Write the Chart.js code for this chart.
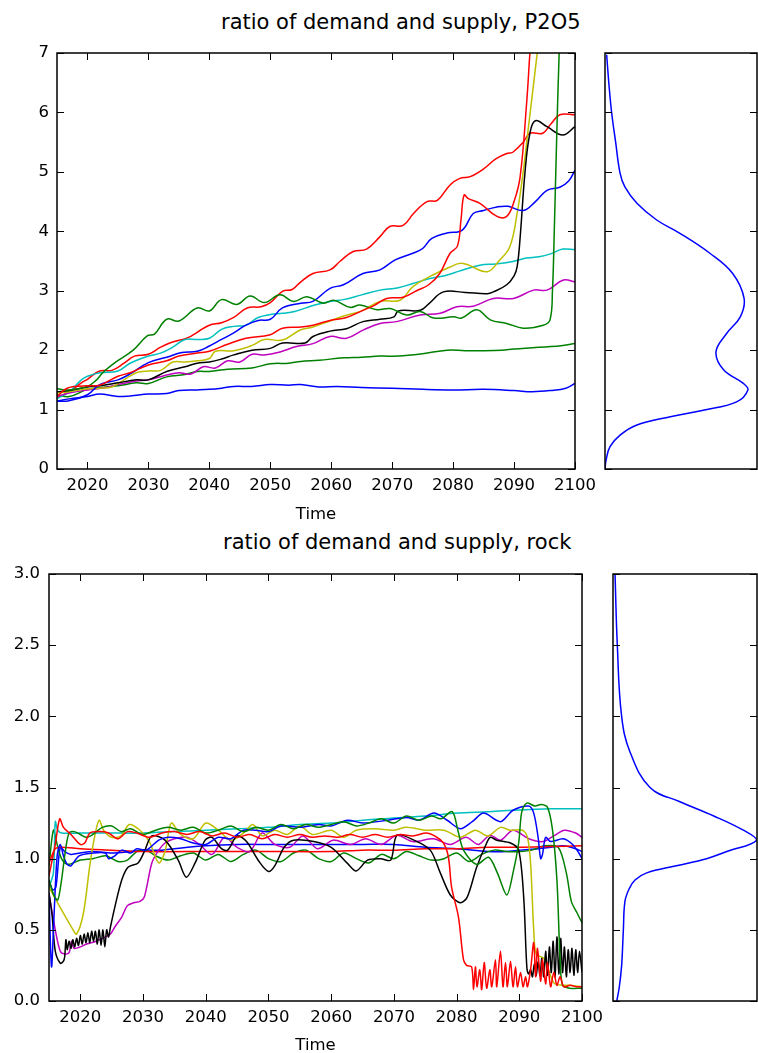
<!DOCTYPE html>
<html>
<head>
<meta charset="utf-8">
<title>ratio of demand and supply</title>
<script src="https://cdn.jsdelivr.net/npm/chart.js@4.4.0/dist/chart.umd.min.js"></script>
<style>
  body { margin: 0; background: #fff; }
  #page { position: relative; width: 758px; height: 1053px; overflow: hidden; font-family: 'DejaVu Sans', sans-serif; }
  #page canvas { position: absolute; left: 0; top: 0; }
  .panel-title { position: absolute; font-size: 21px; line-height: 21px; white-space: nowrap; color: #000; }
</style>
</head>
<body>
<div id="page">
  <div class="panel-title" style="left:221px; top:12px">ratio of demand and supply, P2O5</div>
  <div class="panel-title" style="left:223px; top:532px">ratio of demand and supply, rock</div>
  <canvas id="p2o5Chart" width="758" height="1053"></canvas>
  <canvas id="p2o5DensityChart" width="758" height="1053"></canvas>
  <canvas id="rockChart" width="758" height="1053"></canvas>
  <canvas id="rockDensityChart" width="758" height="1053"></canvas>
</div>
<script>
/* ============================
   DATA
============================ */
const yearTicks = [2020, 2030, 2040, 2050, 2060, 2070, 2080, 2090, 2100];
const p2o5Ticks = [0, 1, 2, 3, 4, 5, 6, 7];
const rockTicks = [0, 0.5, 1, 1.5, 2, 2.5, 3];

// P2O5 runs, [year, ratio]
const p2o5BlueLow = [[2015,1.14],[2017,1.18],[2020,1.22],[2022,1.26],[2025,1.22],[2027,1.23],[2030,1.26],[2033,1.27],[2035,1.32],[2038,1.33],[2040,1.34],[2042,1.36],[2044,1.39],[2047,1.39],[2050,1.42],[2053,1.41],[2055,1.42],[2058,1.38],[2061,1.39],[2065,1.37],[2070,1.36],[2075,1.34],[2080,1.33],[2085,1.34],[2090,1.32],[2093,1.30],[2096,1.32],[2098.5,1.36],[2100,1.44]];
const p2o5GreenLow = [[2015,1.25],[2017,1.22],[2020,1.34],[2022,1.37],[2025,1.40],[2028,1.45],[2030,1.44],[2033,1.55],[2036,1.59],[2038,1.64],[2040,1.64],[2043,1.68],[2047,1.70],[2050,1.77],[2053,1.78],[2055,1.81],[2058,1.83],[2062,1.87],[2065,1.88],[2068,1.90],[2071,1.90],[2075,1.94],[2079,2.0],[2082,1.99],[2085,1.99],[2088,2.0],[2090,2.02],[2093,2.04],[2096,2.06],[2098,2.08],[2100,2.11]];
const p2o5RedHigh = [[2015,1.2],[2017,1.3],[2019,1.45],[2020,1.51],[2022,1.65],[2024,1.66],[2026,1.78],[2027.7,1.9],[2030,1.93],[2032,2.05],[2033.5,2.12],[2036.5,2.21],[2038,2.3],[2040,2.42],[2042,2.46],[2044,2.55],[2046.2,2.71],[2048.5,2.73],[2050,2.8],[2052,2.99],[2053.6,3.02],[2055,3.15],[2057,3.29],[2059.8,3.35],[2061.5,3.5],[2063.6,3.66],[2065.8,3.7],[2068,3.91],[2069.6,4.08],[2071.8,4.1],[2073.5,4.3],[2075.7,4.5],[2077.4,4.52],[2079.5,4.78],[2081.1,4.89],[2082.8,4.92],[2085,5.05],[2087,5.22],[2088.8,5.31],[2089.8,5.33],[2091.5,5.5],[2092.6,5.65],[2094.7,5.65],[2096,5.8],[2097.5,5.96],[2100,5.96]];
const p2o5Cyan = [[2015,1.18],[2017,1.3],[2019,1.5],[2020,1.56],[2022,1.62],[2025,1.65],[2027,1.78],[2030,1.9],[2032,1.95],[2034,2.05],[2036,2.18],[2038,2.18],[2040,2.2],[2042,2.35],[2044,2.4],[2046,2.42],[2048,2.55],[2050,2.6],[2052,2.62],[2054,2.65],[2057,2.75],[2059.8,2.82],[2062,2.85],[2065,2.93],[2068,3.01],[2071,3.05],[2073.4,3.12],[2076,3.2],[2078.9,3.26],[2081,3.33],[2084.4,3.43],[2087,3.45],[2089.8,3.49],[2092,3.55],[2094.1,3.57],[2096,3.62],[2098,3.7],[2100,3.69]];
const p2o5Magenta = [[2015,1.22],[2017,1.28],[2020,1.33],[2023,1.37],[2025,1.42],[2028,1.48],[2030,1.5],[2033,1.58],[2035,1.62],[2037,1.6],[2039,1.72],[2041,1.7],[2043,1.82],[2045,1.8],[2047,1.93],[2049,1.92],[2051.6,1.97],[2054.3,2.06],[2057,2.11],[2059.8,2.23],[2062.5,2.2],[2065.3,2.34],[2068,2.45],[2070.7,2.48],[2074.6,2.59],[2077.9,2.62],[2080.6,2.73],[2083.3,2.74],[2086.6,2.87],[2089.9,2.87],[2093.2,3.01],[2095.4,3.01],[2098.1,3.18],[2100,3.15]];
const p2o5Yellow = [[2015,1.28],[2017,1.3],[2020,1.35],[2022,1.36],[2024,1.38],[2026,1.5],[2028,1.62],[2030,1.65],[2032,1.66],[2034,1.8],[2036,1.8],[2038,1.82],[2040,1.86],[2041,1.98],[2044,1.99],[2047,2.08],[2049,2.18],[2052,2.17],[2054.9,2.34],[2057,2.39],[2060,2.5],[2062.6,2.59],[2065,2.66],[2068,2.82],[2071.3,2.84],[2073.4,3.07],[2076.2,3.24],[2079.5,3.4],[2081.1,3.46],[2082.3,3.44],[2085.6,3.32],[2087.5,3.5],[2089.3,3.74],[2090.5,4.3],[2091.5,5.0],[2092.3,5.7],[2093,6.3],[2093.8,7.0],[2095,8.0]];
const p2o5Black = [[2015,1.3],[2017,1.32],[2020,1.38],[2022,1.4],[2025,1.45],[2028,1.5],[2030,1.5],[2033,1.64],[2036,1.72],[2038,1.78],[2040,1.8],[2042,1.85],[2044,1.92],[2047,2.0],[2050,2.03],[2052,2.12],[2055.7,2.12],[2057,2.23],[2059.8,2.32],[2062.5,2.36],[2065.2,2.48],[2068,2.52],[2070.3,2.56],[2071,2.66],[2074.6,2.67],[2076,2.78],[2078.4,2.98],[2082,2.97],[2085.6,2.95],[2086.6,2.98],[2088.8,3.1],[2090,3.25],[2090.5,3.4],[2091,3.9],[2091.8,5.0],[2092.6,5.65],[2093.5,5.86],[2095.4,5.76],[2098,5.62],[2100,5.76]];
const p2o5BlueHigh = [[2015,1.14],[2017,1.15],[2020,1.25],[2022,1.42],[2025,1.5],[2027,1.6],[2030,1.79],[2033,1.88],[2035.5,1.96],[2038,1.98],[2040,2.07],[2042,2.18],[2044,2.29],[2046,2.42],[2048,2.5],[2050,2.52],[2052,2.71],[2055,2.79],[2057,2.82],[2059.8,3.04],[2062,3.1],[2065.2,3.29],[2068,3.35],[2070.5,3.52],[2073.4,3.63],[2075,3.71],[2076.5,3.88],[2079,3.97],[2081.5,4.02],[2083.3,4.3],[2085,4.35],[2087.2,4.41],[2089,4.42],[2091.5,4.35],[2093.5,4.5],[2095.4,4.69],[2097.5,4.74],[2099,4.85],[2100,5.03]];
const p2o5GreenHigh = [[2015,1.35],[2017,1.33],[2020,1.39],[2021.5,1.5],[2022.5,1.62],[2024.8,1.81],[2027.5,2.0],[2029.8,2.24],[2031,2.27],[2033,2.52],[2035,2.49],[2038,2.71],[2040,2.66],[2042,2.85],[2044.5,2.77],[2046.7,2.91],[2049,2.8],[2051.6,2.93],[2053.8,2.82],[2056,2.9],[2058.7,2.79],[2060.4,2.84],[2063.1,2.72],[2064.7,2.76],[2067.5,2.68],[2069.7,2.7],[2072.4,2.59],[2074.6,2.65],[2076.8,2.54],[2080.1,2.56],[2081.4,2.54],[2083.9,2.68],[2086.1,2.51],[2088.8,2.45],[2091.5,2.37],[2094.8,2.42],[2095.9,2.51],[2096.3,3.0],[2096.6,4.0],[2097.0,5.6],[2097.4,7.0],[2097.7,7.8]];
const p2o5RedLow = [[2015,1.22],[2016.5,1.35],[2018,1.39],[2020,1.4],[2022,1.41],[2025,1.56],[2027,1.62],[2030,1.75],[2033,1.82],[2035,1.9],[2038,1.95],[2040,1.98],[2043,2.1],[2046,2.2],[2050,2.26],[2052,2.37],[2055,2.39],[2057,2.42],[2059.8,2.5],[2062.5,2.55],[2065.2,2.67],[2067,2.75],[2069.1,2.87],[2071.8,2.89],[2074,3.0],[2076,3.1],[2077.8,3.29],[2079.5,3.63],[2080.7,3.75],[2081.3,4.2],[2081.8,4.61],[2082.5,4.55],[2084.4,4.47],[2087.2,4.25],[2088.8,4.25],[2090,4.5],[2091,4.92],[2092.1,6.21],[2092.6,7.0],[2093.2,7.8]];

// density of the P2O5 ratio, [ratio, relative density]
const p2o5Density = [[0,0],[0.15,0.007],[0.375,0.033],[0.57,0.099],[0.74,0.21],[0.88,0.43],[0.99,0.647],[1.13,0.866],[1.33,0.94],[1.44,0.91],[1.67,0.78],[1.97,0.73],[2.28,0.80],[2.56,0.89],[2.87,0.915],[3.29,0.84],[3.63,0.69],[3.97,0.49],[4.19,0.34],[4.47,0.21],[4.75,0.13],[4.98,0.099],[5.5,0.07],[5.99,0.044],[6.5,0.025],[6.97,0.011]];

// rock runs, [year, ratio]
const rockBlueA = [[2015,0.85],[2015.6,0.78],[2016.1,0.8],[2016.8,1.08],[2017.5,1.05],[2018.5,1.03],[2020,1.04],[2022,1.05],[2025,1.04],[2028,1.05],[2030,1.06],[2033,1.06],[2035,1.07],[2040,1.09],[2045,1.1],[2050,1.1],[2055,1.1],[2060,1.1],[2065,1.1],[2070,1.1],[2075,1.08],[2080,1.07],[2085,1.05],[2088,1.05],[2090,1.06],[2093,1.07],[2095,1.08],[2097,1.09],[2099,1.07],[2100,1.05]];
const rockGreenA = [[2015,0.95],[2015.7,1.2],[2016.3,1.1],[2017,1.0],[2018,0.96],[2020,0.99],[2022,1.0],[2024,1.02],[2026,0.98],[2027.5,0.99],[2029,1.05],[2030.5,1.06],[2032,1.02],[2034,0.99],[2036,1.02],[2038,1.04],[2040,0.99],[2042,1.03],[2044,0.98],[2046,1.03],[2048,1.06],[2050,1.0],[2052,0.98],[2054,1.04],[2056,1.06],[2058,1.0],[2060,0.98],[2062,1.04],[2064,1.0],[2066,0.97],[2068,1.03],[2070,1.0],[2072,1.05],[2074,1.02],[2076,0.99],[2078,1.0],[2080,1.04],[2082,0.98],[2084,1.03],[2086,1.06],[2088,1.05],[2090,1.05],[2092,1.06],[2094,1.09],[2096.2,1.08],[2097.5,0.9],[2098.3,0.7],[2099.2,0.62],[2100,0.55]];
const rockRedA = [[2015,0.97],[2016,1.07],[2017,1.08],[2020,1.07],[2025,1.06],[2030,1.05],[2040,1.05],[2050,1.05],[2060,1.05],[2065,1.06],[2070,1.06],[2075,1.07],[2080,1.07],[2085,1.08],[2090,1.08],[2095,1.085],[2100,1.09]];
const rockCyan = [[2015,0.8],[2015.7,0.9],[2016,1.26],[2016.4,1.2],[2017,1.18],[2020,1.18],[2025,1.18],[2030,1.18],[2035,1.19],[2040,1.2],[2045,1.21],[2050,1.22],[2055,1.24],[2060,1.25],[2065,1.27],[2068,1.28],[2075,1.3],[2080,1.32],[2085,1.33],[2089,1.34],[2095,1.35],[2100,1.35]];
const rockMagenta = [[2015,0.75],[2016,0.5],[2016.8,0.35],[2017.5,0.33],[2018.2,0.34],[2018.6,0.42],[2019,0.37],[2020,0.38],[2021,0.4],[2022.5,0.42],[2024,0.45],[2024.8,0.47],[2025.5,0.52],[2026.6,0.59],[2027.5,0.67],[2028.5,0.69],[2029.5,0.7],[2030.2,0.73],[2031.4,0.97],[2032.5,1.06],[2033.5,1.11],[2035,1.14],[2037,1.15],[2039,1.1],[2041,1.03],[2043,1.15],[2045,1.08],[2047,1.05],[2049,1.18],[2051,1.1],[2053.4,1.08],[2055.5,1.16],[2057.8,1.07],[2060.3,1.13],[2063.1,1.1],[2065.5,1.14],[2068,1.1],[2070.5,1.165],[2073,1.12],[2076.3,1.14],[2079,1.1],[2081.5,1.15],[2083.5,1.1],[2085.3,1.165],[2087,1.13],[2089,1.2],[2091.5,1.14],[2093.8,1.12],[2095.5,1.16],[2097.2,1.2],[2099,1.18],[2100,1.15]];
const rockYellow = [[2015,0.8],[2016,0.72],[2017,0.64],[2018.7,0.51],[2019.4,0.47],[2020.5,0.62],[2021.5,0.95],[2022.3,1.16],[2023,1.27],[2023.7,1.2],[2025,1.15],[2026.5,1.16],[2027.8,1.24],[2029.5,1.2],[2031,1.12],[2032.5,0.97],[2033.5,1.05],[2034.5,1.25],[2036,1.17],[2038,1.14],[2040,1.25],[2042,1.2],[2044,1.13],[2046,1.18],[2047.5,1.24],[2049,1.16],[2051,1.2],[2053,1.17],[2055,1.23],[2057,1.17],[2060,1.2],[2062,1.15],[2064,1.2],[2067,1.21],[2070,1.2],[2072,1.22],[2075,1.2],[2078,1.2],[2080.6,1.15],[2083,1.2],[2085,1.16],[2087,1.22],[2088.5,1.2],[2090.5,1.2],[2091.3,1.15],[2091.8,0.97],[2092.3,0.5],[2092.7,0.33],[2093.9,0.3],[2094.8,0.2],[2095.7,0.12],[2098,0.11],[2100,0.1]];
const rockBlack = [[2015,0.76],[2015.5,0.6],[2016,0.35],[2016.8,0.265],[2017.3,0.28],[2017.5,0.31],[2017.7,0.43],[2017.9,0.36],[2018.2,0.42],[2018.5,0.37],[2018.8,0.43],[2019.1,0.38],[2019.4,0.44],[2019.7,0.39],[2020,0.46],[2020.3,0.4],[2020.6,0.47],[2020.9,0.41],[2021.2,0.48],[2021.5,0.41],[2021.8,0.49],[2022.1,0.42],[2022.4,0.49],[2022.7,0.4],[2023,0.5],[2023.3,0.39],[2023.6,0.5],[2023.9,0.38],[2024.2,0.5],[2024.5,0.45],[2024.8,0.52],[2025.5,0.66],[2026.6,0.85],[2027.6,0.94],[2029.2,0.97],[2030.3,1.06],[2031.4,1.16],[2033.5,1.13],[2035.6,0.99],[2036.9,0.87],[2038.3,0.97],[2039.9,1.13],[2041,1.15],[2042.5,1.07],[2043.5,1.06],[2045,1.16],[2046.5,1.12],[2048.5,0.98],[2050,0.91],[2051,0.95],[2052.5,1.08],[2054,1.13],[2057.2,1.12],[2060,1.08],[2062.6,0.967],[2064,0.914],[2065.8,0.99],[2067.9,1.0],[2069.5,0.99],[2070.5,1.165],[2073.2,1.13],[2075.8,1.06],[2077.4,0.9],[2079,0.745],[2080.6,0.69],[2081.7,0.73],[2083.2,0.94],[2084.8,1.11],[2085.4,1.15],[2086.4,1.13],[2088.6,1.11],[2089.9,1.06],[2090.7,0.73],[2091.2,0.24],[2091.5,0.19],[2091.8,0.22],[2092.1,0.17],[2092.4,0.26],[2092.7,0.18],[2093,0.28],[2093.3,0.18],[2093.6,0.3],[2093.9,0.17],[2094.2,0.35],[2094.5,0.18],[2094.8,0.38],[2095.1,0.2],[2095.4,0.42],[2095.7,0.17],[2096,0.45],[2096.3,0.19],[2096.6,0.44],[2096.9,0.2],[2097.2,0.38],[2097.5,0.17],[2097.8,0.36],[2098.1,0.2],[2098.4,0.37],[2098.7,0.18],[2099,0.36],[2099.3,0.2],[2099.6,0.35],[2100,0.2]];
const rockBlueB = [[2015,0.75],[2015.4,0.24],[2015.8,0.6],[2016.3,1.02],[2016.8,1.1],[2017.3,1.02],[2017.9,0.96],[2018.5,0.95],[2019.8,1.02],[2022,1.04],[2024,1.04],[2024.5,1.0],[2025.5,1.02],[2026.6,1.06],[2028,1.04],[2029,1.07],[2030.5,1.06],[2032.5,1.13],[2034,1.15],[2036,1.14],[2038,1.11],[2040,1.1],[2042,1.15],[2044,1.14],[2046,1.2],[2048,1.2],[2050,1.19],[2052,1.23],[2055,1.22],[2058,1.24],[2060,1.23],[2062.6,1.27],[2065,1.25],[2069,1.27],[2072,1.29],[2074,1.27],[2076.4,1.32],[2078.5,1.27],[2080.6,1.21],[2082.5,1.26],[2084.3,1.32],[2087,1.26],[2089,1.34],[2091.5,1.37],[2092.3,1.32],[2093,1.15],[2093.4,1.0],[2093.7,1.03],[2094.2,1.15],[2095,1.12],[2097,1.14],[2098.5,1.1],[2099.5,1.04],[2100,1.0]];
const rockGreenB = [[2015,0.85],[2015.8,0.74],[2016.4,0.71],[2017,0.85],[2017.6,1.05],[2018.2,1.18],[2019,1.19],[2020,1.17],[2021,1.15],[2022,1.17],[2023.5,1.22],[2025,1.23],[2026.5,1.19],[2028,1.21],[2030,1.17],[2032,1.2],[2034,1.22],[2036,1.2],[2038,1.22],[2040,1.18],[2042,1.2],[2044,1.23],[2046,1.19],[2048,1.22],[2050,1.2],[2052,1.24],[2054,1.21],[2056,1.24],[2058,1.22],[2060,1.24],[2062,1.26],[2064,1.23],[2066,1.25],[2068,1.28],[2070,1.25],[2072,1.3],[2074,1.27],[2076,1.3],[2077.5,1.28],[2079.3,1.33],[2080.2,1.2],[2081.1,1.06],[2083.2,0.96],[2085.1,1.01],[2086.5,0.9],[2088,0.745],[2089,0.9],[2089.9,1.11],[2090.4,1.33],[2091.2,1.39],[2092.5,1.37],[2093.5,1.38],[2094.5,1.36],[2095.3,1.2],[2096,0.85],[2096.5,0.3],[2096.9,0.11],[2098,0.09],[2100,0.09]];
const rockRedB = [[2015,0.88],[2016,1.1],[2016.7,1.28],[2017.3,1.22],[2018.5,1.17],[2020,1.1],[2020.7,1.11],[2021.5,1.18],[2023,1.19],[2024.5,1.18],[2026,1.14],[2027.5,1.19],[2029,1.18],[2031,1.15],[2033,1.18],[2035,1.19],[2037,1.17],[2039,1.19],[2041,1.16],[2043,1.18],[2045,1.15],[2047,1.17],[2049,1.14],[2051,1.17],[2053,1.15],[2055,1.17],[2057,1.15],[2059,1.16],[2061,1.15],[2063,1.17],[2065,1.15],[2067,1.17],[2069,1.15],[2071,1.17],[2073,1.16],[2075.2,1.18],[2076.5,1.16],[2077.9,1.11],[2078.7,1.01],[2079.2,0.8],[2080.3,0.59],[2081.1,0.29],[2081.6,0.25],[2082.4,0.24],[2082.7,0.08],[2083,0.24],[2083.25,0.1],[2083.7,0.22],[2084,0.08],[2084.4,0.27],[2084.8,0.09],[2085.3,0.22],[2085.6,0.1],[2086.2,0.29],[2086.4,0.1],[2087,0.35],[2087.4,0.1],[2087.8,0.27],[2088.1,0.1],[2088.6,0.28],[2089,0.1],[2089.4,0.24],[2089.7,0.1],[2090.2,0.2],[2090.6,0.1],[2091,0.17],[2091.3,0.1],[2091.8,0.22],[2092.3,0.41],[2092.6,0.17],[2092.9,0.37],[2093.4,0.14],[2093.7,0.29],[2094.2,0.12],[2094.5,0.27],[2095,0.1],[2095.5,0.2],[2096,0.11],[2096.5,0.17],[2097.1,0.1],[2098.1,0.11],[2099.2,0.1],[2100,0.1]];

// density of the rock ratio, [ratio, relative density]
const rockDensity = [[0,0.026],[0.1,0.044],[0.25,0.06],[0.5,0.072],[0.7,0.083],[0.79,0.113],[0.85,0.153],[0.9,0.234],[0.95,0.44],[1.0,0.65],[1.05,0.79],[1.13,0.998],[1.2,0.905],[1.3,0.70],[1.4,0.465],[1.5,0.257],[1.75,0.118],[2.0,0.06],[2.5,0.03],[3.0,0.014]];

/* ============================
   STYLE
============================ */
const mpl = { b: '#0000ff', g: '#008000', r: '#ff0000', c: '#00bfbf', m: '#bf00bf', y: '#bfbf00', k: '#000000' };
const tickFont = { family: "'DejaVu Sans', sans-serif", size: 16.5 };

Chart.defaults.font.family = tickFont.family;
Chart.defaults.color = '#000';

/* ============================
   FRAME + INWARD TICKS
============================ */
const framePlugin = {
    id: 'frame',
    afterDatasetsDraw(chart, args, opts) {
        const { ctx, chartArea: { left, right, top, bottom } } = chart;
        const len = 7;
        ctx.save();
        ctx.strokeStyle = '#000';
        ctx.lineWidth = 1;
        ctx.beginPath();
        if (opts.xTicks) {
            chart.scales.x.ticks.forEach(t => {
                const px = Math.round(chart.scales.x.getPixelForValue(t.value)) + 0.5;
                ctx.moveTo(px, bottom); ctx.lineTo(px, bottom - len);
                ctx.moveTo(px, top); ctx.lineTo(px, top + len);
            });
        }
        if (opts.yTicks) {
            chart.scales.y.ticks.forEach(t => {
                const py = Math.round(chart.scales.y.getPixelForValue(t.value)) + 0.5;
                ctx.moveTo(left, py); ctx.lineTo(left + len, py);
                ctx.moveTo(right, py); ctx.lineTo(right - len, py);
            });
        }
        ctx.stroke();
        ctx.lineWidth = 1.5;
        ctx.strokeRect(left, top, right - left, bottom - top);
        ctx.restore();
    }
};

/* ============================
   BUILDERS
============================ */
function runDataset(points, colorKey, tension) {
    return {
        data: points.map(([x, y]) => ({ x, y })),
        borderColor: mpl[colorKey],
        borderWidth: 1.5,
        pointRadius: 0,
        fill: false,
        tension
    };
}

function mainChart(id, runs, cfg) {
    // matplotlib draws later lines on top, Chart.js draws the first on top
    const datasets = runs.map(([pts, c]) => runDataset(pts, c, cfg.tension)).reverse();
    return new Chart(document.getElementById(id), {
        type: 'line',
        data: { datasets },
        plugins: [framePlugin],
        options: {
            responsive: false,
            animation: false,
            events: [],
            layout: { padding: cfg.padding },
            plugins: {
                legend: { display: false },
                tooltip: { enabled: false },
                frame: { xTicks: true, yTicks: true }
            },
            scales: {
                x: {
                    type: 'linear', min: 2015, max: 2100,
                    afterBuildTicks: s => { s.ticks = yearTicks.map(v => ({ value: v })); },
                    afterFit: s => { s.height = cfg.xAxisHeight; },
                    grid: { display: false, drawTicks: false },
                    border: { display: false },
                    ticks: { autoSkip: false, maxRotation: 0, padding: 7, color: '#000', font: tickFont, callback: v => String(v) },
                    title: {
                        display: true, text: 'Time', color: '#000',
                        font: { ...tickFont, lineHeight: 0.9 },
                        padding: { top: 0, bottom: cfg.timePad }
                    }
                },
                y: {
                    type: 'linear', min: cfg.yTicks[0], max: cfg.yTicks[cfg.yTicks.length - 1],
                    afterBuildTicks: s => { s.ticks = cfg.yTicks.map(v => ({ value: v })); },
                    afterFit: s => { s.width = cfg.yAxisWidth; },
                    grid: { display: false, drawTicks: false },
                    border: { display: false },
                    ticks: { autoSkip: false, padding: cfg.yPad, color: '#000', font: tickFont, callback: cfg.yLabel }
                }
            }
        }
    });
}

function densityChart(id, points, yTicks, padding) {
    return new Chart(document.getElementById(id), {
        type: 'line',
        data: {
            datasets: [{
                data: points.map(([v, d]) => ({ x: d, y: v })),
                borderColor: mpl.b,
                borderWidth: 1.5,
                pointRadius: 0,
                fill: false,
                tension: 0.4
            }]
        },
        plugins: [framePlugin],
        options: {
            responsive: false,
            animation: false,
            events: [],
            indexAxis: 'y',
            layout: { padding },
            plugins: {
                legend: { display: false },
                tooltip: { enabled: false },
                frame: { xTicks: false, yTicks: true }
            },
            scales: {
                x: { type: 'linear', min: 0, max: 1, display: false },
                y: {
                    type: 'linear', min: yTicks[0], max: yTicks[yTicks.length - 1], display: false,
                    afterBuildTicks: s => { s.ticks = yTicks.map(v => ({ value: v })); }
                }
            }
        }
    });
}

/* ============================
   CHARTS
============================ */
mainChart('p2o5Chart', [
    [p2o5BlueLow, 'b'], [p2o5GreenLow, 'g'], [p2o5RedHigh, 'r'], [p2o5Cyan, 'c'], [p2o5Magenta, 'm'],
    [p2o5Yellow, 'y'], [p2o5Black, 'k'], [p2o5BlueHigh, 'b'], [p2o5GreenHigh, 'g'], [p2o5RedLow, 'r']
], {
    padding: { left: 0, top: 53, right: 183, bottom: 524 },
    xAxisHeight: 60, timePad: 7, yAxisWidth: 57, yPad: 8, tension: 0.4,
    yTicks: p2o5Ticks, yLabel: v => String(v)
});

densityChart('p2o5DensityChart', p2o5Density, p2o5Ticks, { left: 605, top: 53, right: 1, bottom: 584 });

mainChart('rockChart', [
    [rockBlueA, 'b'], [rockGreenA, 'g'], [rockRedA, 'r'], [rockCyan, 'c'], [rockMagenta, 'm'],
    [rockYellow, 'y'], [rockBlack, 'k'], [rockBlueB, 'b'], [rockGreenB, 'g'], [rockRedB, 'r']
], {
    padding: { left: 0, top: 574, right: 176, bottom: 0 },
    xAxisHeight: 52, timePad: 0, yAxisWidth: 49, yPad: 9, tension: 0.3,
    yTicks: rockTicks, yLabel: v => v.toFixed(1)
});

densityChart('rockDensityChart', rockDensity, rockTicks, { left: 613, top: 574, right: 1, bottom: 52 });
</script>
</body>
</html>
